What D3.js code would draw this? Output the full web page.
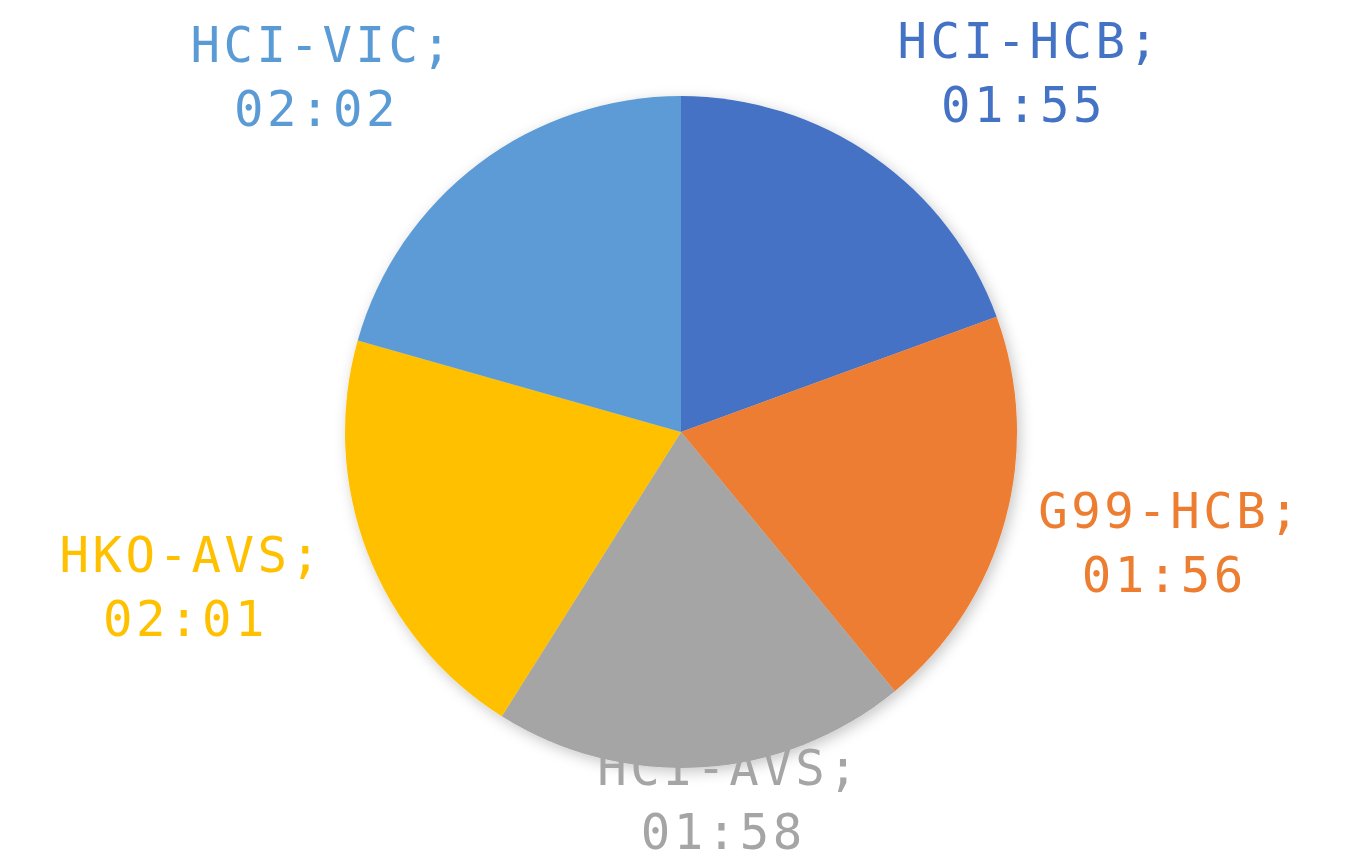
<!DOCTYPE html>
<html>
<head>
<meta charset="utf-8">
<script src="https://cdn.jsdelivr.net/npm/d3@7"></script>
<style>
  html, body { margin: 0; padding: 0; background: #fff; }
  svg { display: block; }
</style>
</head>
<body>
<div id="chart"></div>
<script>
// Chart data.
const routes = ['HCI-HCB', 'G99-HCB', 'HCI-AVS', 'HKO-AVS', 'HCI-VIC'];
const durations = ['01:55', '01:56', '01:58', '02:01', '02:02'];
const colours = ['#4472C4', '#ED7D31', '#A5A5A5', '#FFC000', '#5B9BD5'];

// Layout variables.
const width = 1353;
const height = 863;
const cx = 681;
const cy = 432;
const radius = 336;
const labelRadius = 505;
const labelNudge = [[59, 40], [2, -36], [16, -151], [-18, -41], [-54, 33]];
const lineGap = 64;
const fontSize = 49;

const toSeconds = s => {
  const [m, sec] = s.split(':').map(Number);
  return m * 60 + sec;
};

const slices = routes.map((name, i) => ({
  name,
  label: durations[i],
  value: toSeconds(durations[i]),
  colour: colours[i]
}));

const svg = d3.select('#chart')
  .append('svg')
  .attr('width', width)
  .attr('height', height);

const defs = svg.append('defs');
const shadow = defs.append('filter')
  .attr('id', 'shadow')
  .attr('x', '-20%').attr('y', '-20%')
  .attr('width', '140%').attr('height', '140%');
shadow.append('feDropShadow')
  .attr('dx', 3)
  .attr('dy', 4)
  .attr('stdDeviation', 7)
  .attr('flood-color', '#000')
  .attr('flood-opacity', 0.22);

const pie = d3.pie()
  .sort(null)
  .value(d => d.value);

const arcs = pie(slices);

const arc = d3.arc()
  .innerRadius(0)
  .outerRadius(radius);

const labelArc = d3.arc()
  .innerRadius(labelRadius)
  .outerRadius(labelRadius);

const g = svg.append('g')
  .attr('transform', `translate(${cx},${cy})`);

g.append('g')
  .attr('filter', 'url(#shadow)')
  .selectAll('path')
  .data(arcs)
  .join('path')
  .attr('d', arc)
  .attr('fill', d => d.data.colour);

const labels = g.append('g')
  .selectAll('text')
  .data(arcs)
  .join('text')
  .attr('text-anchor', 'middle')
  .attr('fill', d => d.data.colour)
  .style('font-family', '"DejaVu Sans Mono", "Liberation Mono", monospace')
  .style('font-size', fontSize + 'px')
  .style('letter-spacing', '3.5px')
  .attr('transform', (d, i) => {
    const [x, y] = labelArc.centroid(d);
    return `translate(${x + labelNudge[i][0]},${y + labelNudge[i][1]})`;
  });

labels.append('tspan')
  .attr('x', 0)
  .attr('y', 0)
  .text(d => d.data.name + ';');

labels.append('tspan')
  .attr('x', -6)
  .attr('y', lineGap)
  .text(d => d.data.label);
</script>
</body>
</html>
